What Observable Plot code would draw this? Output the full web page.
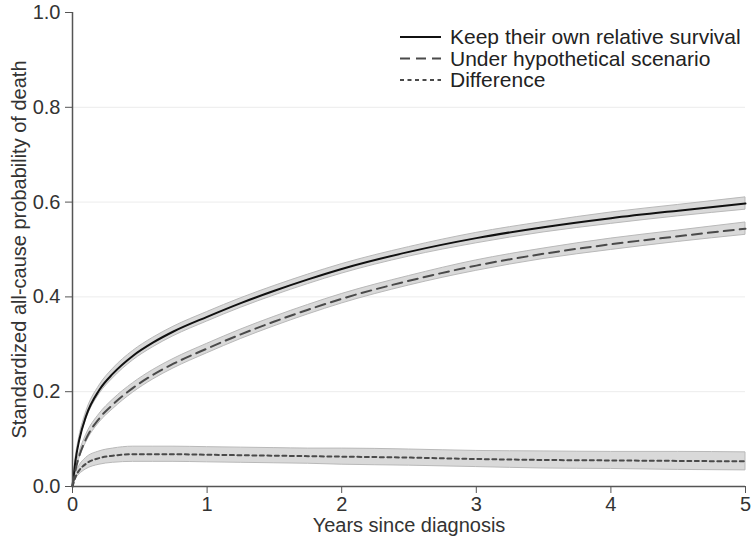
<!DOCTYPE html>
<html>
<head>
<meta charset="utf-8">
<script src="https://cdn.jsdelivr.net/npm/d3@7"></script>
<script src="https://cdn.jsdelivr.net/npm/@observablehq/plot@0.6"></script>
<style>
  html, body { margin: 0; padding: 0; background: #fff; }
  #wrap { position: relative; width: 755px; height: 545px; font-family: "Liberation Sans", Arial, sans-serif; }
  #legend { position: absolute; left: 0; top: 0; pointer-events: none; }
</style>
</head>
<body>
<div id="wrap"></div>
<script>
// ---- data ----
const years = [0, 0.025, 0.05, 0.1, 0.2, 0.3, 0.45, 0.6, 0.75, 1, 1.25, 1.5, 1.75, 2, 2.5, 3, 3.5, 4, 4.5, 5];
const keepOwn =      [0, 0.060, 0.098, 0.148, 0.204, 0.238, 0.276, 0.304, 0.327, 0.358, 0.387, 0.413, 0.437, 0.459, 0.495, 0.524, 0.547, 0.566, 0.582, 0.597];
const keepOwnHalf =  [0, 0.004, 0.006, 0.008, 0.009, 0.010, 0.010, 0.010, 0.010, 0.010, 0.010, 0.010, 0.010, 0.010, 0.010, 0.011, 0.011, 0.012, 0.012, 0.013];
const hypothetical = [0, 0.038, 0.064, 0.100, 0.144, 0.173, 0.208, 0.236, 0.259, 0.291, 0.321, 0.348, 0.373, 0.396, 0.434, 0.466, 0.491, 0.511, 0.528, 0.544];
const hypoHalf =     [0, 0.004, 0.006, 0.008, 0.009, 0.010, 0.010, 0.010, 0.010, 0.010, 0.010, 0.010, 0.010, 0.010, 0.010, 0.011, 0.011, 0.012, 0.012, 0.013];
const difference =   [0, 0.022, 0.034, 0.048, 0.060, 0.065, 0.068, 0.068, 0.068, 0.067, 0.066, 0.065, 0.064, 0.063, 0.061, 0.058, 0.056, 0.055, 0.054, 0.053];
const diffHalf =     [0, 0.006, 0.009, 0.012, 0.014, 0.015, 0.016, 0.016, 0.016, 0.016, 0.016, 0.016, 0.016, 0.017, 0.017, 0.017, 0.018, 0.018, 0.019, 0.019];
const seriesNames = ["Keep their own relative survival", "Under hypothetical scenario", "Difference"];
const xTicks = [0, 1, 2, 3, 4, 5];
const yTicks = [0, 0.2, 0.4, 0.6, 0.8, 1.0];
const gridTicks = [0.2, 0.4, 0.6, 0.8];
const xTitle = "Years since diagnosis";
const yTitle = "Standardized all-cause probability of death";

// ---- build table ----
const seriesVals = [keepOwn, hypothetical, difference];
const seriesHalf = [keepOwnHalf, hypoHalf, diffHalf];
const rows = [];
seriesNames.forEach((name, s) => {
  years.forEach((t, i) => {
    rows.push({series: name, t, v: seriesVals[s][i], lo: seriesVals[s][i] - seriesHalf[s][i], hi: seriesVals[s][i] + seriesHalf[s][i]});
  });
});
const styles = {
  [seriesNames[0]]: {stroke: "#111", dash: null, width: 2},
  [seriesNames[1]]: {stroke: "#4a4a4a", dash: "10,6", width: 2},
  [seriesNames[2]]: {stroke: "#4a4a4a", dash: "4,3.5", width: 2}
};

const font = "'Liberation Sans', Arial, sans-serif";
const fs = 20;
const curve = "monotone-x";

const marks = [
  Plot.gridY(gridTicks, {stroke: "#ececec", strokeOpacity: 1, strokeWidth: 1})
];
seriesNames.forEach(name => {
  const d = rows.filter(r => r.series === name);
  marks.push(Plot.areaY(d, {x: "t", y1: "lo", y2: "hi", fill: "#d9d9d9", fillOpacity: 1, stroke: "#b9b9b9", strokeWidth: 1, curve}));
});
seriesNames.forEach(name => {
  const d = rows.filter(r => r.series === name);
  const st = styles[name];
  marks.push(Plot.line(d, {x: "t", y: "v", stroke: st.stroke, strokeWidth: st.width, strokeDasharray: st.dash, curve}));
});
marks.push(
  Plot.axisX(xTicks, {tickSize: 7, tickPadding: 3, fontSize: fs, fill: "#333", stroke: "#555", label: null, tickFormat: d3.format("d")}),
  Plot.axisY(yTicks, {tickSize: 7, tickPadding: 5, fontSize: fs, fill: "#333", stroke: "#555", label: null, tickFormat: d3.format(".1f")}),
  Plot.ruleX([0], {stroke: "#555", strokeWidth: 1.5}),
  Plot.ruleY([0], {stroke: "#555", strokeWidth: 1.5}),
  Plot.text([xTitle], {frameAnchor: "bottom", lineAnchor: "middle", textAnchor: "middle", dy: 39, fontSize: fs, fill: "#333"}),
  Plot.text([yTitle], {frameAnchor: "left", lineAnchor: "middle", textAnchor: "middle", dx: -53, rotate: -90, fontSize: fs, fill: "#333"})
);

const chart = Plot.plot({
  width: 755,
  height: 545,
  marginLeft: 72,
  marginRight: 10,
  marginTop: 12,
  marginBottom: 59,
  style: {fontFamily: font, fontSize: fs + "px", background: "#fff", color: "#333"},
  x: {domain: [0, 5]},
  y: {domain: [0, 1]},
  marks
});
const wrap = document.getElementById("wrap");
wrap.appendChild(chart);

// ---- legend overlay (inside plot area, top right) ----
const ns = "http://www.w3.org/2000/svg";
const leg = document.createElementNS(ns, "svg");
leg.setAttribute("id", "legend");
leg.setAttribute("width", 755);
leg.setAttribute("height", 120);
const rowY = [37, 58.5, 80];
seriesNames.forEach((name, i) => {
  const st = styles[name];
  const ln = document.createElementNS(ns, "line");
  ln.setAttribute("x1", 400); ln.setAttribute("x2", 441);
  ln.setAttribute("y1", rowY[i]); ln.setAttribute("y2", rowY[i]);
  ln.setAttribute("stroke", st.stroke);
  ln.setAttribute("stroke-width", st.width);
  if (st.dash) ln.setAttribute("stroke-dasharray", st.dash);
  leg.appendChild(ln);
  const tx = document.createElementNS(ns, "text");
  tx.setAttribute("x", 450); tx.setAttribute("y", rowY[i]);
  tx.setAttribute("dy", "0.35em");
  tx.setAttribute("font-family", font);
  tx.setAttribute("font-size", 21);
  tx.setAttribute("fill", "#222");
  tx.textContent = name;
  leg.appendChild(tx);
});
wrap.appendChild(leg);
</script>
</body>
</html>
